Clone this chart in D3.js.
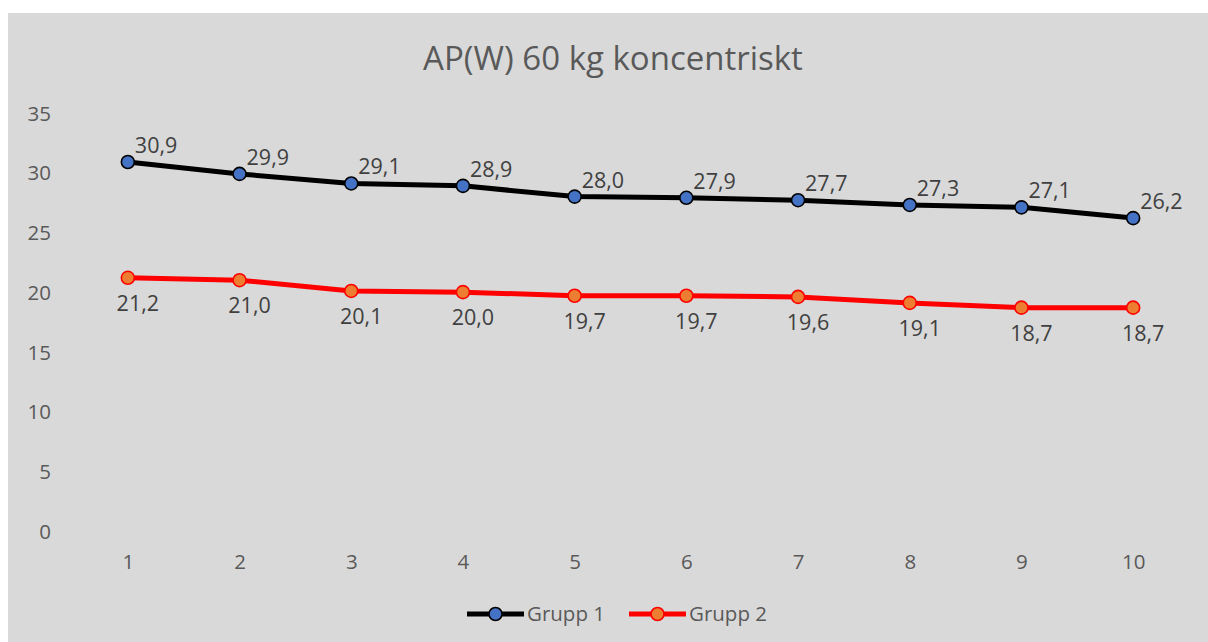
<!DOCTYPE html>
<html>
<head>
<meta charset="utf-8">
<script src="https://cdn.jsdelivr.net/npm/d3@7"></script>
<style>
  html, body { margin: 0; padding: 0; background: #ffffff; }
  svg { display: block; }
  text { font-family: "Open Sans", "Noto Sans", sans-serif; }
</style>
</head>
<body>
<svg id="chart" width="1208" height="642"></svg>
<script>
// Repetition number on the x axis
const categories = ["1", "2", "3", "4", "5", "6", "7", "8", "9", "10"];
// Average power (W) per repetition
const grupp1 = [30.9, 29.9, 29.1, 28.9, 28.0, 27.9, 27.7, 27.3, 27.1, 26.2];
const grupp2 = [21.2, 21.0, 20.1, 20.0, 19.7, 19.7, 19.6, 19.1, 18.7, 18.7];
const yTicks = [0, 5, 10, 15, 20, 25, 30, 35];
const seriesNames = ["Grupp 1", "Grupp 2"];
const titleText = "AP(W) 60 kg koncentriskt";

const series = [
  { name: seriesNames[0], values: grupp1, line: "#000000", fill: "#4472c4", stroke: "#000000", labelPos: "above" },
  { name: seriesNames[1], values: grupp2, line: "#ff0000", fill: "#ed7d31", stroke: "#ff0000", labelPos: "below" }
];

const svg = d3.select("#chart");
const W = 1208, H = 642;

// chart background panel
svg.append("rect")
  .attr("x", 8).attr("y", 13)
  .attr("width", W - 8).attr("height", H - 13)
  .attr("fill", "#d9d9d9");

// title
svg.append("text")
  .attr("x", 613).attr("y", 70)
  .attr("text-anchor", "middle")
  .attr("font-size", 33)
  .attr("fill", "#595959")
  .text(titleText);

const plot = { left: 72, right: 1189, top: 113, bottom: 531 };

const x = d3.scalePoint()
  .domain(categories)
  .range([plot.left, plot.right])
  .padding(0.5);

const y = d3.scaleLinear()
  .domain([0, 35])
  .range([plot.bottom, plot.top]);

// y axis labels
const yAxis = d3.axisLeft(y).tickValues(yTicks).tickSize(0).tickPadding(0).tickFormat(d3.format("d"));
const yg = svg.append("g").attr("transform", "translate(51,0)").call(yAxis);
yg.select(".domain").remove();
yg.selectAll("text")
  .attr("font-family", "Open Sans, Noto Sans, sans-serif")
  .attr("font-size", 20.5)
  .attr("fill", "#595959")
  .attr("dy", "0.35em");

// x axis labels
const xAxis = d3.axisBottom(x).tickSize(0).tickPadding(0);
const xg = svg.append("g").attr("transform", "translate(0,554)").call(xAxis);
xg.select(".domain").remove();
xg.selectAll("text")
  .attr("font-family", "Open Sans, Noto Sans, sans-serif")
  .attr("font-size", 20.5)
  .attr("fill", "#595959")
  .attr("dy", "0.71em");

const line = d3.line()
  .x((d, i) => x(categories[i]))
  .y(d => y(d));

series.forEach(s => {
  const g = svg.append("g");
  g.append("path")
    .datum(s.values)
    .attr("d", line)
    .attr("fill", "none")
    .attr("stroke", s.line)
    .attr("stroke-width", 5)
    .attr("stroke-linejoin", "round");

  g.selectAll("circle")
    .data(s.values)
    .join("circle")
    .attr("cx", (d, i) => x(categories[i]))
    .attr("cy", d => y(d))
    .attr("r", 6.5)
    .attr("fill", s.fill)
    .attr("stroke", s.stroke)
    .attr("stroke-width", 1.6);

  const fmt = v => d3.format(".1f")(v).replace(".", ",");
  g.selectAll("text.lbl")
    .data(s.values)
    .join("text")
    .attr("class", "lbl")
    .attr("x", (d, i) => s.labelPos === "above" ? x(categories[i]) + 7 : x(categories[i]) + 10)
    .attr("y", d => s.labelPos === "above" ? y(d) - 9 : y(d) + 33)
    .attr("text-anchor", s.labelPos === "above" ? "start" : "middle")
    .attr("font-size", 21.5)
    .attr("fill", "#404040")
    .text(d => fmt(d));
});

// legend
const legendItems = [
  { s: series[0], x0: 467 },
  { s: series[1], x0: 629 }
];
legendItems.forEach(({ s, x0 }) => {
  const lg = svg.append("g");
  lg.append("line")
    .attr("x1", x0).attr("x2", x0 + 57)
    .attr("y1", 614).attr("y2", 614)
    .attr("stroke", s.line).attr("stroke-width", 5);
  lg.append("circle")
    .attr("cx", x0 + 28.5).attr("cy", 614).attr("r", 6.5)
    .attr("fill", s.fill).attr("stroke", s.stroke).attr("stroke-width", 1.6);
  lg.append("text")
    .attr("x", x0 + 60).attr("y", 621)
    .attr("font-size", 20.5)
    .attr("fill", "#595959")
    .text(s.name);
});
</script>
</body>
</html>
